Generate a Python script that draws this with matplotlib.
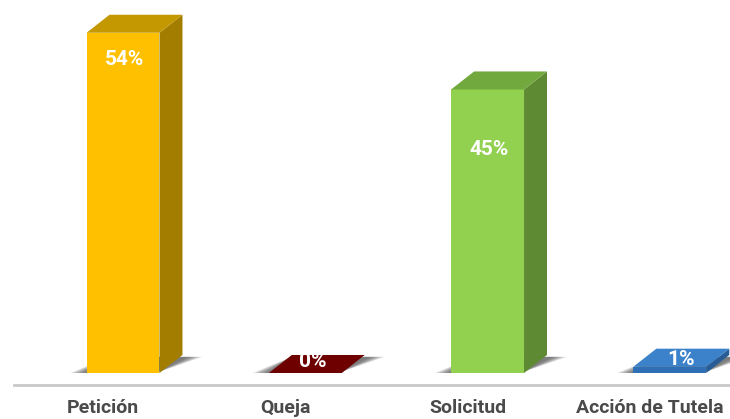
import numpy as np
import matplotlib.pyplot as plt
from matplotlib.patches import Polygon

categories = ['Petición', 'Queja', 'Solicitud', 'Acción de Tutela']
percentages = [54, 0, 45, 1]
value_labels = ['54%', '0%', '45%', '1%']

front_colors = ['#FFC000', '#5E0000', '#92D050', '#2F6FB5']
top_colors = ['#C39800', '#6E0000', '#72A93F', '#3C82CB']
side_colors = ['#A27D00', '#4A0000', '#5E8A33', '#275C96']

plt.rcParams['font.family'] = ['Roboto', 'DejaVu Sans']

fig = plt.figure(figsize=(7.3, 4.19), dpi=100)
ax = fig.add_axes([0, 0, 1, 1])
ax.set_xlim(-0.675, 3.33)
ax.set_ylim(-7.3, 59.2)
ax.axis('off')

x = np.arange(len(categories))
width = 0.40
# depth of the 3d box in data units
dx = 0.126
dy = 2.86

# soft floor shadows, faked with stacked translucent polygons
for xi in x:
    l, r = xi - width / 2, xi + width / 2
    for k in range(8):
        g = 0.011 * k
        pts = [(l - 0.09 + g, 0.0), (r - 0.02, 0.0),
               (r + dx + 0.11 - g, dy - 0.3), (l + dx, dy - 0.3)]
        ax.add_patch(Polygon(pts, closed=True, color='#3a3a3a', alpha=0.12,
                             lw=0, zorder=1))

ax.bar(x, percentages, width=width, color=front_colors, zorder=3)

for xi, h, tc, sc in zip(x, percentages, top_colors, side_colors):
    l, r = xi - width / 2, xi + width / 2
    top = [(l, h), (r, h), (r + dx, h + dy), (l + dx, h + dy)]
    side = [(r, 0), (r + dx, dy), (r + dx, h + dy), (r, h)]
    ax.add_patch(Polygon(side, closed=True, facecolor=sc, lw=0, zorder=2))
    ax.add_patch(Polygon(top, closed=True, facecolor=tc, lw=0, zorder=4))

# value labels inside / on top of each box
label_pos = [(0.01, 49.8), (1.04, 1.9), (2.01, 35.4), (3.06, 2.2)]
for (lx, ly), txt in zip(label_pos, value_labels):
    ax.text(lx, ly, txt, ha='center', va='center', fontsize=15,
            fontweight='bold', color='white', zorder=5)

# category axis
ax.plot([-0.60, 3.33], [-1.9, -1.9], color='#C9C9C9', lw=2, zorder=0)
for xi, cat in zip(x, categories):
    ax.text(xi - 0.11, -5.6, cat, ha='center', va='center', fontsize=14,
            fontweight='bold', color='#4a4a4a')

fig.savefig('out.png', dpi=100, facecolor='white')
